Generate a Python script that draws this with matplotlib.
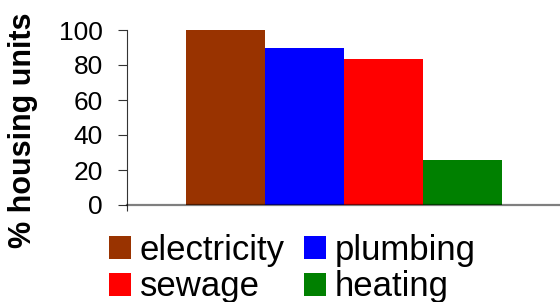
import matplotlib
matplotlib.use("Agg")
import matplotlib.pyplot as plt
import numpy as np

plt.rcParams['font.family'] = ['Liberation Sans', 'DejaVu Sans']

series = ["electricity", "plumbing", "sewage", "heating"]
values = [100, 89.7, 83.4, 25.7]
colors = ["#993300", "#0000FF", "#FF0000", "#008000"]
yticks = [0, 20, 40, 60, 80, 100]

fig = plt.figure(figsize=(5.6, 3.02), dpi=100)
ax = fig.add_axes([127/560, 1 - 205/302, 434/560, 175/302])

w = 79/434
n = len(series)
bars = []
for i, (s, v, c) in enumerate(zip(series, values, colors)):
    b = ax.bar((i - (n - 1) / 2) * w, v, width=w, color=c, label=s, linewidth=0)
    bars.append(b)

ax.set_xlim(-0.5, 0.5)
ax.set_ylim(0, 100)
ax.set_yticks(yticks)
ax.set_xticks([-0.5])
ax.set_xticklabels([""])
ax.tick_params(axis='y', direction='out', length=6.5, width=0.8, color='#333333',
               labelsize=19, pad=11)
ax.tick_params(axis='x', direction='out', length=4.5, width=0.8, color='#333333')
for s in ['top', 'right']:
    ax.spines[s].set_visible(False)
ax.spines['left'].set_color('#333333')
ax.spines['left'].set_linewidth(0.8)
ax.spines['bottom'].set_color((0, 0, 0, 0.5))
ax.spines['bottom'].set_linewidth(1.6)

ax.set_ylabel("% housing units", fontsize=22, fontweight='bold', va='center', ha='center')
ax.yaxis.set_label_coords((23 - 127) / 434, (205 - 130) / 175)

# row-major order: electricity, plumbing / sewage, heating
order = [0, 2, 1, 3]
leg = fig.legend([bars[i] for i in order], [series[i] for i in order],
                 loc='upper left', bbox_to_anchor=(109/560, 1 - 234/302), ncol=2,
                 frameon=False, fontsize=25, handlelength=0.64, handleheight=0.64,
                 handletextpad=0.25, columnspacing=0.55, labelspacing=0.1,
                 borderaxespad=0, borderpad=0)

fig.savefig("out.png", dpi=100)
